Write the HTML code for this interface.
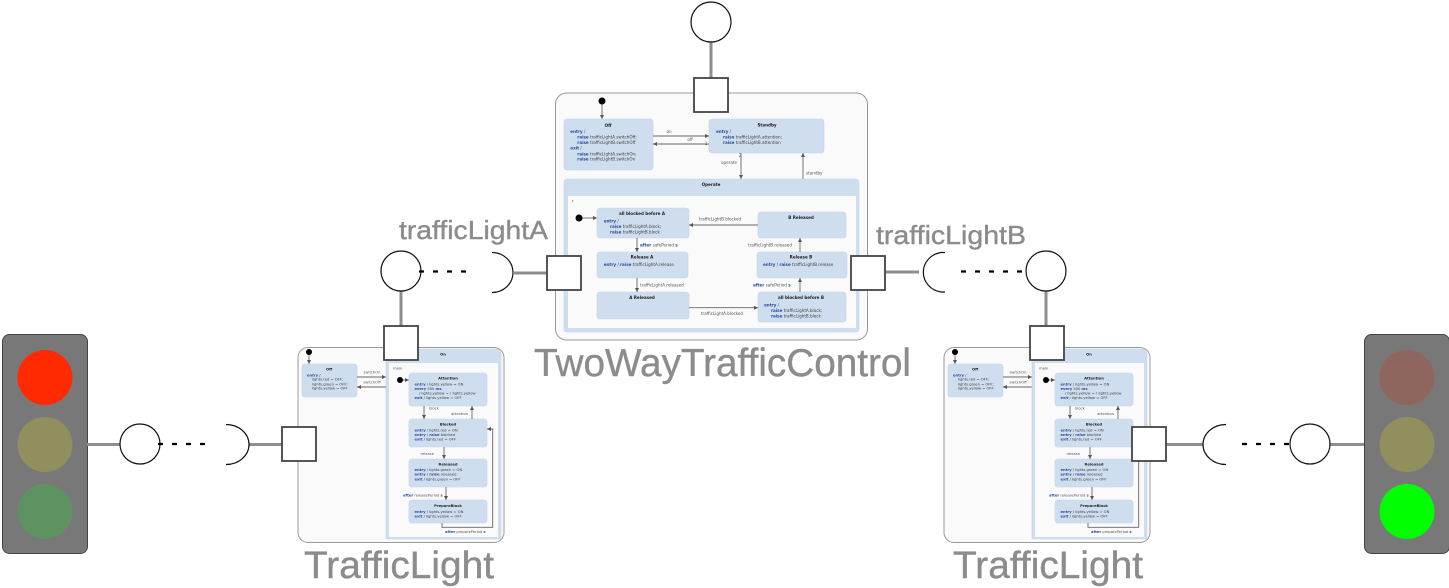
<!DOCTYPE html>
<html><head><meta charset="utf-8"><style>
html,body{margin:0;padding:0;background:#fff}
svg{display:block}
.t{font-family:"DejaVu Sans",sans-serif;fill:#3d3d3d}
.c text{font-size:4.1px}
.s text{font-size:3.7px}
text.b{font-weight:bold;fill:#1c1c1c;text-anchor:middle}
text.l{fill:#555}
text.m{text-anchor:middle}
text.e{text-anchor:end}
tspan{font-weight:bold;fill:#2b4a9c}
.st{fill:#cfdeee;stroke:#c3d4e6;stroke-width:.6}
.ed{fill:none;stroke:#666;stroke-width:.9}
.ttl{font-family:"Liberation Sans",sans-serif;fill:#8c8c8c;stroke:#8c8c8c;stroke-width:.4}
.port{fill:#fff;stroke:#444;stroke-width:1.8}
.cir{fill:#fff;stroke:#111;stroke-width:1.2}
.con{stroke:#8e8e8e;stroke-width:3;fill:none}
.dash{stroke:#000;stroke-width:2.2;stroke-dasharray:5 9;fill:none}
.sock{fill:none;stroke:#111;stroke-width:1.2}
</style></head><body>
<svg width="1449" height="588" viewBox="0 0 1449 588" xmlns="http://www.w3.org/2000/svg">
<defs>
<marker id="a" markerWidth="5" markerHeight="5" refX="4" refY="2" orient="auto" markerUnits="userSpaceOnUse"><path d="M0 0L4 2L0 4Z" fill="#555"/></marker>
<filter id="bl" x="-2%" y="-2%" width="104%" height="104%"><feGaussianBlur stdDeviation="0.35"/></filter>
</defs>

<!-- central machine -->
<g class="t c" filter="url(#bl)">
<rect x="555.5" y="93" width="312" height="247" rx="11" fill="#fafafa" stroke="#999" stroke-width="1"/>
<circle cx="602" cy="101" r="3.5" fill="#000"/>
<path class="ed" d="M602 104.500V119" marker-end="url(#a)"/>
<rect class="st" x="564" y="119" width="89" height="51" rx="3"/>
<text class="b" x="608" y="126.800">Off</text>
<text x="570.300" y="133"><tspan>entry</tspan> /</text>
<text x="577.300" y="138.700"><tspan>raise</tspan> trafficLightA.switchOff;</text>
<text x="577.300" y="144"><tspan>raise</tspan> trafficLightB.switchOff</text>
<text x="570.300" y="149.700"><tspan>exit</tspan> /</text>
<text x="577.300" y="155.300"><tspan>raise</tspan> trafficLightA.switchOn;</text>
<text x="577.300" y="160.700"><tspan>raise</tspan> trafficLightB.switchOn</text>
<rect class="st" x="709" y="119" width="115" height="34" rx="3"/>
<text class="b" x="767" y="126.300">Standby</text>
<text x="716" y="133"><tspan>entry</tspan> /</text>
<text x="723" y="138.700"><tspan>raise</tspan> trafficLightA.attention;</text>
<text x="723" y="144"><tspan>raise</tspan> trafficLightB.attention</text>
<path class="ed" d="M653 136H709" marker-end="url(#a)"/>
<text class="l m" x="669" y="133">on</text>
<path class="ed" d="M709 144H653" marker-end="url(#a)"/>
<text class="l m" x="690" y="141">off</text>
<text class="l m" x="706" y="145">1</text>
<path class="ed" d="M741 153V179" marker-end="url(#a)"/>
<text class="l m" x="729" y="164">operate</text>
<text class="l m" x="740" y="157">2</text>
<path class="ed" d="M803 179V153" marker-end="url(#a)"/>
<text class="l" x="806" y="174.500">standby</text>
<rect x="564" y="179" width="295" height="153" rx="3" fill="#cfdeee" stroke="#c3d4e6" stroke-width=".6"/>
<rect x="568" y="196" width="288" height="132" fill="#fafafa"/>
<text class="b" x="711" y="186">Operate</text>
<text class="l" x="572" y="202.500">r</text>
<circle cx="579" cy="218" r="3.500" fill="#000"/>
<path class="ed" d="M582.500 218H597" marker-end="url(#a)"/>
<rect class="st" x="597" y="208" width="92" height="30" rx="3"/>
<text class="b" x="642" y="215">all blocked before A</text>
<text x="603.700" y="222.500"><tspan>entry</tspan> /</text>
<text x="610" y="228"><tspan>raise</tspan> trafficLightA.block;</text>
<text x="610" y="233.400"><tspan>raise</tspan> trafficLightB.block</text>
<rect class="st" x="597" y="252" width="91" height="26" rx="3"/>
<text class="b" x="642" y="258.500">Release A</text>
<text x="603.700" y="266"><tspan>entry</tspan> / <tspan>raise</tspan> trafficLightA.release</text>
<rect class="st" x="597" y="292" width="92" height="27" rx="3"/>
<text class="b" x="642" y="299">A Released</text>
<rect class="st" x="758" y="212" width="88" height="26" rx="3"/>
<text class="b" x="801" y="219">B Released</text>
<rect class="st" x="757" y="252" width="90" height="26" rx="3"/>
<text class="b" x="801" y="258.500">Release B</text>
<text x="763" y="266"><tspan>entry</tspan> / <tspan>raise</tspan> trafficLightB.release</text>
<rect class="st" x="758" y="292" width="88" height="30" rx="3"/>
<text class="b" x="801" y="299">all blocked before B</text>
<text x="764" y="306.500"><tspan>entry</tspan> /</text>
<text x="771" y="312"><tspan>raise</tspan> trafficLightA.block;</text>
<text x="771" y="317.400"><tspan>raise</tspan> trafficLightB.block</text>
<path class="ed" d="M758 225H689" marker-end="url(#a)"/>
<text class="l m" x="720" y="220.500">trafficLightB.blocked</text>
<path class="ed" d="M637 238V252" marker-end="url(#a)"/>
<text class="l" x="640" y="246.500"><tspan>after</tspan> safePeriod <tspan>s</tspan></text>
<path class="ed" d="M637 278V292" marker-end="url(#a)"/>
<text class="l" x="640" y="286.500">trafficLightA.released</text>
<path class="ed" d="M689 307.700H758" marker-end="url(#a)"/>
<text class="l m" x="722" y="315">trafficLightA.blocked</text>
<path class="ed" d="M800 292V278" marker-end="url(#a)"/>
<text class="l" x="753" y="286.500"><tspan>after</tspan> safePeriod <tspan>s</tspan></text>
<path class="ed" d="M800 252V238" marker-end="url(#a)"/>
<text class="l m" x="770" y="246.500">trafficLightB.released</text>
</g>

<!-- left machine -->
<g class="t s" filter="url(#bl)">
<rect x="298" y="347.500" width="206" height="195" rx="10" fill="#fafafa" stroke="#999" stroke-width="1"/>
<circle cx="309" cy="352" r="3" fill="#000"/>
<path class="ed" d="M309 355V364" marker-end="url(#a)"/>
<rect class="st" x="302" y="364" width="55" height="33" rx="3"/>
<text class="b" x="329" y="370.300">Off</text>
<text x="307" y="376.300"><tspan>entry</tspan> /</text>
<text x="312" y="380.700">lights.red = OFF;</text>
<text x="312" y="385.300">lights.green = OFF;</text>
<text x="312" y="389.700">lights.yellow = OFF</text>
<path class="ed" d="M357 377H386" marker-end="url(#a)"/>
<text class="l m" x="372" y="373.500">switchOn</text>
<path class="ed" d="M386 387H357" marker-end="url(#a)"/>
<text class="l m" x="372" y="383.500">switchOff</text>
<path d="M386 349H495Q501 349 501 355V539H386Z" fill="#cfdeee" stroke="#c3d4e6" stroke-width=".6"/>
<rect x="389" y="363" width="109" height="174" fill="#fafafa"/>
<text class="b" x="443" y="355.300">On</text>
<text class="l" x="393" y="369.300">main</text>
<circle cx="400" cy="380" r="3" fill="#000"/>
<path class="ed" d="M403 380H409" marker-end="url(#a)"/>
<rect class="st" x="409" y="373" width="78" height="33" rx="3"/>
<text class="b" x="448" y="379.300">Attention</text>
<text x="414.500" y="385.300"><tspan>entry</tspan> / lights.yellow = ON</text>
<text x="414.500" y="389.900"><tspan>every</tspan> 500 <tspan>ms</tspan></text>
<text x="419" y="394.300">/ lights.yellow = ! lights.yellow</text>
<text x="414.500" y="399"><tspan>exit</tspan> / lights.yellow = OFF</text>
<rect class="st" x="409" y="419" width="78" height="28" rx="3"/>
<text class="b" x="448" y="425.300">Blocked</text>
<text x="414.500" y="431.300"><tspan>entry</tspan> / lights.red = ON</text>
<text x="414.500" y="436"><tspan>entry</tspan> / <tspan>raise</tspan> blocked</text>
<text x="414.500" y="440.300"><tspan>exit</tspan> / lights.red = OFF</text>
<rect class="st" x="409" y="459" width="78" height="28" rx="3"/>
<text class="b" x="448" y="465.300">Released</text>
<text x="414.500" y="471"><tspan>entry</tspan> / lights.green = ON</text>
<text x="414.500" y="475.300"><tspan>entry</tspan> / <tspan>raise</tspan> released</text>
<text x="414.500" y="480.300"><tspan>exit</tspan> / lights.green = OFF</text>
<rect class="st" x="409" y="500" width="78" height="23" rx="3"/>
<text class="b" x="448" y="506.800">PrepareBlock</text>
<text x="414.500" y="512.800"><tspan>entry</tspan> / lights.yellow = ON</text>
<text x="414.500" y="517.300"><tspan>exit</tspan> / lights.yellow = OFF</text>
<path class="ed" d="M424 406V419" marker-end="url(#a)"/>
<text class="l" x="429" y="409.300">block</text>
<path class="ed" d="M472 419V406" marker-end="url(#a)"/>
<text class="l e" x="468" y="414.800">attention</text>
<path class="ed" d="M444 447V459" marker-end="url(#a)"/>
<text class="l e" x="434" y="454.800">release</text>
<path class="ed" d="M446 487V500" marker-end="url(#a)"/>
<text class="l" x="403" y="496.300"><tspan>after</tspan> releasePeriod <tspan>s</tspan></text>
<path class="ed" d="M442 523V527.300H492.700V429H487" marker-end="url(#a)"/>
<text class="l" x="445" y="532.800"><tspan>after</tspan> preparePeriod <tspan>s</tspan></text>
</g>

<!-- right machine -->
<g class="t s" filter="url(#bl)" transform="translate(646 0)">
<rect x="298" y="347.500" width="206" height="195" rx="10" fill="#fafafa" stroke="#999" stroke-width="1"/>
<circle cx="309" cy="352" r="3" fill="#000"/>
<path class="ed" d="M309 355V364" marker-end="url(#a)"/>
<rect class="st" x="302" y="364" width="55" height="33" rx="3"/>
<text class="b" x="329" y="370.300">Off</text>
<text x="307" y="376.300"><tspan>entry</tspan> /</text>
<text x="312" y="380.700">lights.red = OFF;</text>
<text x="312" y="385.300">lights.green = OFF;</text>
<text x="312" y="389.700">lights.yellow = OFF</text>
<path class="ed" d="M357 377H386" marker-end="url(#a)"/>
<text class="l m" x="372" y="373.500">switchOn</text>
<path class="ed" d="M386 387H357" marker-end="url(#a)"/>
<text class="l m" x="372" y="383.500">switchOff</text>
<path d="M386 349H495Q501 349 501 355V539H386Z" fill="#cfdeee" stroke="#c3d4e6" stroke-width=".6"/>
<rect x="389" y="363" width="109" height="174" fill="#fafafa"/>
<text class="b" x="443" y="355.300">On</text>
<text class="l" x="393" y="369.300">main</text>
<circle cx="400" cy="380" r="3" fill="#000"/>
<path class="ed" d="M403 380H409" marker-end="url(#a)"/>
<rect class="st" x="409" y="373" width="78" height="33" rx="3"/>
<text class="b" x="448" y="379.300">Attention</text>
<text x="414.500" y="385.300"><tspan>entry</tspan> / lights.yellow = ON</text>
<text x="414.500" y="389.900"><tspan>every</tspan> 500 <tspan>ms</tspan></text>
<text x="419" y="394.300">/ lights.yellow = ! lights.yellow</text>
<text x="414.500" y="399"><tspan>exit</tspan> / lights.yellow = OFF</text>
<rect class="st" x="409" y="419" width="78" height="28" rx="3"/>
<text class="b" x="448" y="425.300">Blocked</text>
<text x="414.500" y="431.300"><tspan>entry</tspan> / lights.red = ON</text>
<text x="414.500" y="436"><tspan>entry</tspan> / <tspan>raise</tspan> blocked</text>
<text x="414.500" y="440.300"><tspan>exit</tspan> / lights.red = OFF</text>
<rect class="st" x="409" y="459" width="78" height="28" rx="3"/>
<text class="b" x="448" y="465.300">Released</text>
<text x="414.500" y="471"><tspan>entry</tspan> / lights.green = ON</text>
<text x="414.500" y="475.300"><tspan>entry</tspan> / <tspan>raise</tspan> released</text>
<text x="414.500" y="480.300"><tspan>exit</tspan> / lights.green = OFF</text>
<rect class="st" x="409" y="500" width="78" height="23" rx="3"/>
<text class="b" x="448" y="506.800">PrepareBlock</text>
<text x="414.500" y="512.800"><tspan>entry</tspan> / lights.yellow = ON</text>
<text x="414.500" y="517.300"><tspan>exit</tspan> / lights.yellow = OFF</text>
<path class="ed" d="M424 406V419" marker-end="url(#a)"/>
<text class="l" x="429" y="409.300">block</text>
<path class="ed" d="M472 419V406" marker-end="url(#a)"/>
<text class="l e" x="468" y="414.800">attention</text>
<path class="ed" d="M444 447V459" marker-end="url(#a)"/>
<text class="l e" x="434" y="454.800">release</text>
<path class="ed" d="M446 487V500" marker-end="url(#a)"/>
<text class="l" x="403" y="496.300"><tspan>after</tspan> releasePeriod <tspan>s</tspan></text>
<path class="ed" d="M442 523V527.300H492.700V429H487" marker-end="url(#a)"/>
<text class="l" x="445" y="532.800"><tspan>after</tspan> preparePeriod <tspan>s</tspan></text>
</g>

<!-- top connector -->
<path class="con" d="M711 42V78"/>
<circle class="cir" cx="711" cy="22" r="20"/>
<rect class="port" x="694" y="78" width="34" height="34"/>

<!-- trafficLightA connector -->
<path class="con" d="M401 291V326M514 273H547"/>
<circle class="cir" cx="401" cy="271" r="20"/>
<path class="dash" d="M419 271.500H466"/>
<path class="sock" d="M492 252.500A21 20 0 0 1 492 292.500"/>
<rect class="port" x="547" y="256" width="34" height="34"/>
<rect class="port" x="384" y="326" width="34" height="34"/>

<!-- trafficLightB connector -->
<path class="con" d="M885 272H919M1046 291V326"/>
<rect class="port" x="851" y="256" width="34" height="34"/>
<path class="sock" d="M945 252.500H941A21 20 0 0 0 941 292H945"/>
<path class="dash" d="M961 271.500H1022"/>
<circle class="cir" cx="1046" cy="271" r="20"/>
<rect class="port" x="1030" y="326" width="34" height="34"/>

<!-- left traffic light -->
<rect x="2.500" y="334.500" width="85" height="219" rx="7" fill="#787878" stroke="#444" stroke-width="1"/>
<circle cx="45" cy="377.500" r="27.500" fill="#ff2a00"/>
<circle cx="45" cy="444.500" r="27.500" fill="#928f5f"/>
<circle cx="45" cy="511.500" r="27.500" fill="#5e9260"/>
<path class="con" d="M87 444.500H120M249 444.500H282"/>
<circle class="cir" cx="140" cy="444" r="20"/>
<path class="dash" d="M158 444H205"/>
<path class="sock" d="M226 424.500A23 20 0 0 1 226 464.500"/>
<rect class="port" x="282" y="427" width="34" height="34"/>

<!-- right traffic light -->
<rect x="1364.500" y="334.500" width="85" height="219" rx="7" fill="#787878" stroke="#444" stroke-width="1"/>
<circle cx="1407" cy="377.500" r="27.500" fill="#8f665d"/>
<circle cx="1407" cy="444.500" r="27.500" fill="#928f5f"/>
<circle cx="1407" cy="511.500" r="27.500" fill="#00ff00"/>
<path class="con" d="M1165 444.500H1203M1330 444.500H1364"/>
<rect class="port" x="1132" y="427" width="34" height="34"/>
<path class="sock" d="M1226 424.500A23 20 0 0 0 1226 464.500"/>
<path class="dash" d="M1242 444H1289"/>
<circle class="cir" cx="1310" cy="444" r="20"/>

<!-- titles -->
<text class="ttl" x="534" y="376" font-size="39" textLength="377" lengthAdjust="spacingAndGlyphs">TwoWayTrafficControl</text>
<text class="ttl" x="304" y="578" font-size="38" textLength="190" lengthAdjust="spacingAndGlyphs">TrafficLight</text>
<text class="ttl" x="953" y="578" font-size="38" textLength="190" lengthAdjust="spacingAndGlyphs">TrafficLight</text>
<text class="ttl" x="399" y="239" font-size="26" textLength="149" lengthAdjust="spacingAndGlyphs">trafficLightA</text>
<text class="ttl" x="876" y="244" font-size="26" textLength="150" lengthAdjust="spacingAndGlyphs">trafficLightB</text>
</svg>
</body></html>
